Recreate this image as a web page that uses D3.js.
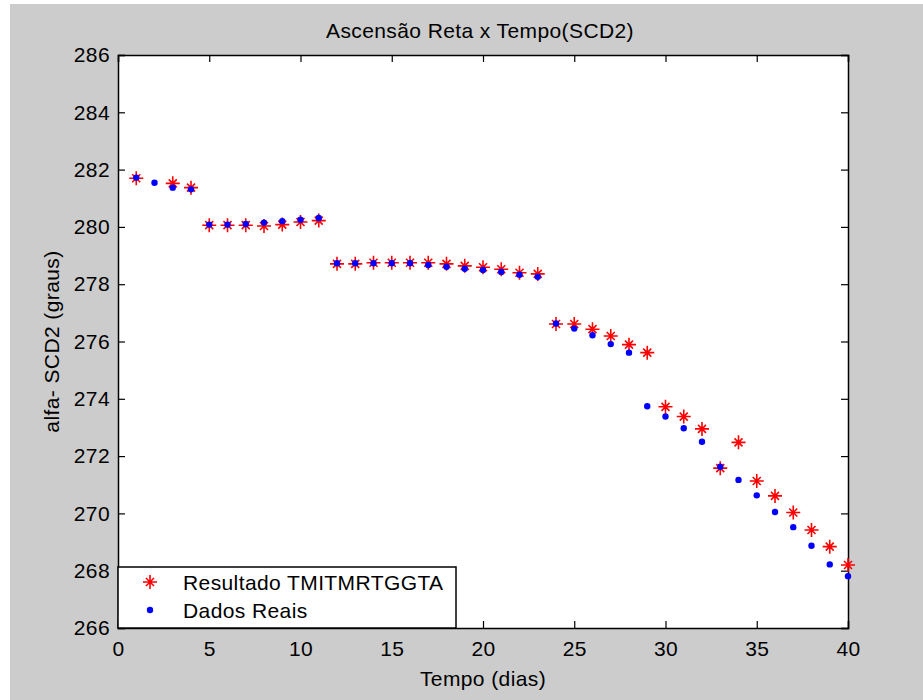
<!DOCTYPE html>
<html>
<head>
<meta charset="utf-8">
<script src="https://cdnjs.cloudflare.com/ajax/libs/d3/7.9.0/d3.min.js"></script>
<style>
  body { margin: 0; background: #fff; }
  svg text { font-family: "Liberation Sans", Arial, sans-serif; fill: #000; letter-spacing: 0.4px; }
</style>
</head>
<body>
<div class="canvas"></div>
<script>
// day index (Tempo, dias)
const dias = d3.range(1, 41);

// Resultado TMITMRTGGTA (red stars); day 2 has no value
const resultado = [281.70, null, 281.52, 281.37, 280.06, 280.06, 280.06, 280.03, 280.08, 280.17,
  280.22, 278.71, 278.71, 278.75, 278.75, 278.75, 278.75, 278.71, 278.64, 278.59,
  278.52, 278.40, 278.36, 276.61, 276.61, 276.43, 276.19, 275.89, 275.61, 273.72,
  273.38, 272.95, 271.58, 272.48, 271.13, 270.61, 270.03, 269.42, 268.84, 268.20];

// Dados Reais (blue dots)
const reais = [281.72, 281.54, 281.37, 281.31, 280.08, 280.08, 280.10, 280.15, 280.20, 280.25,
  280.31, 278.73, 278.73, 278.73, 278.73, 278.73, 278.67, 278.61, 278.54, 278.50,
  278.43, 278.33, 278.26, 276.63, 276.45, 276.22, 275.91, 275.61, 273.74, 273.38,
  272.97, 272.50, 271.63, 271.17, 270.63, 270.05, 269.52, 268.87, 268.22, 267.81];

const xTicks = [0, 5, 10, 15, 20, 25, 30, 35, 40];
const yTicks = [266, 268, 270, 272, 274, 276, 278, 280, 282, 284, 286];
const legendLabels = ["Resultado TMITMRTGGTA", "Dados Reais"];

const width = 923, height = 700;
const mLeft = 118, mRight = 848, mTop = 55, mBottom = 628;

const svg = d3.select(".canvas").append("svg")
  .attr("width", width)
  .attr("height", height);

// figure background
svg.append("rect")
  .attr("x", 10).attr("y", 4)
  .attr("width", width - 10).attr("height", height - 4)
  .attr("fill", "#cccccc");

svg.append("rect")
  .attr("x", mLeft).attr("y", mTop)
  .attr("width", mRight - mLeft).attr("height", mBottom - mTop)
  .attr("fill", "#fff");

const x = d3.scaleLinear().domain([0, 40]).range([mLeft, mRight]);
const y = d3.scaleLinear().domain([266, 286]).range([mBottom, mTop]);

const fs = 21;

// axes (MATLAB style: ticks inward, box on)
const gx = svg.append("g").attr("transform", `translate(0,${mBottom})`)
  .call(d3.axisBottom(x).tickValues(xTicks).tickSize(-7).tickFormat(d3.format("d")));
const gxTop = svg.append("g").attr("transform", `translate(0,${mTop})`)
  .call(d3.axisTop(x).tickValues(xTicks).tickSize(-7).tickFormat(""));
const gy = svg.append("g").attr("transform", `translate(${mLeft},0)`)
  .call(d3.axisLeft(y).tickValues(yTicks).tickSize(-7).tickPadding(8).tickFormat(d3.format("d")));
const gyRight = svg.append("g").attr("transform", `translate(${mRight},0)`)
  .call(d3.axisRight(y).tickValues(yTicks).tickSize(-7).tickFormat(""));

[gx, gxTop, gy, gyRight].forEach(g => {
  g.selectAll(".domain").attr("stroke", "#000").attr("stroke-width", 1.5);
  g.selectAll(".tick line").attr("stroke", "#000").attr("stroke-width", 1.2);
  g.selectAll("text").style("font-size", fs + "px");
});
gx.selectAll("text").attr("dy", "0.71em").attr("y", 13);

// star marker: plus + short diagonals
function star(g, cx, cy) {
  const s = 7, d = 4;
  g.append("path")
    .attr("d", `M${cx - s},${cy}H${cx + s}M${cx},${cy - s}V${cy + s}` +
      `M${cx - d},${cy - d}L${cx + d},${cy + d}M${cx - d},${cy + d}L${cx + d},${cy - d}`)
    .attr("stroke", "#ff0000").attr("stroke-width", 1.6).attr("fill", "none");
}

const plot = svg.append("g");
dias.forEach((d, i) => {
  if (resultado[i] != null) star(plot, x(d), y(resultado[i]));
});
plot.selectAll("circle.real")
  .data(dias.map((d, i) => [d, reais[i]]))
  .enter().append("circle")
  .attr("class", "real")
  .attr("cx", d => x(d[0]))
  .attr("cy", d => y(d[1]))
  .attr("r", 3.2)
  .attr("fill", "#0000ff");

// title and axis labels
svg.append("text")
  .attr("x", 480).attr("y", 38)
  .attr("text-anchor", "middle").style("font-size", fs + "px")
  .text("Ascensão Reta x Tempo(SCD2)");

svg.append("text")
  .attr("x", (mLeft + mRight) / 2).attr("y", 686)
  .attr("text-anchor", "middle").style("font-size", fs + "px")
  .text("Tempo (dias)");

svg.append("text")
  .attr("transform", `translate(59,${(mTop + mBottom) / 2}) rotate(-90)`)
  .attr("text-anchor", "middle").style("font-size", fs + "px")
  .text("alfa- SCD2 (graus)");

// legend
const lg = svg.append("g");
lg.append("rect")
  .attr("x", 118).attr("y", 567)
  .attr("width", 338).attr("height", 61)
  .attr("fill", "#fff").attr("stroke", "#000").attr("stroke-width", 1.5);
star(lg, 150, 582);
lg.append("circle").attr("cx", 150).attr("cy", 610).attr("r", 3.2).attr("fill", "#0000ff");
legendLabels.forEach((t, i) => {
  lg.append("text")
    .attr("x", 183).attr("y", 590 + i * 28)
    .style("font-size", fs + "px")
    .text(t);
});
</script>
</body>
</html>
